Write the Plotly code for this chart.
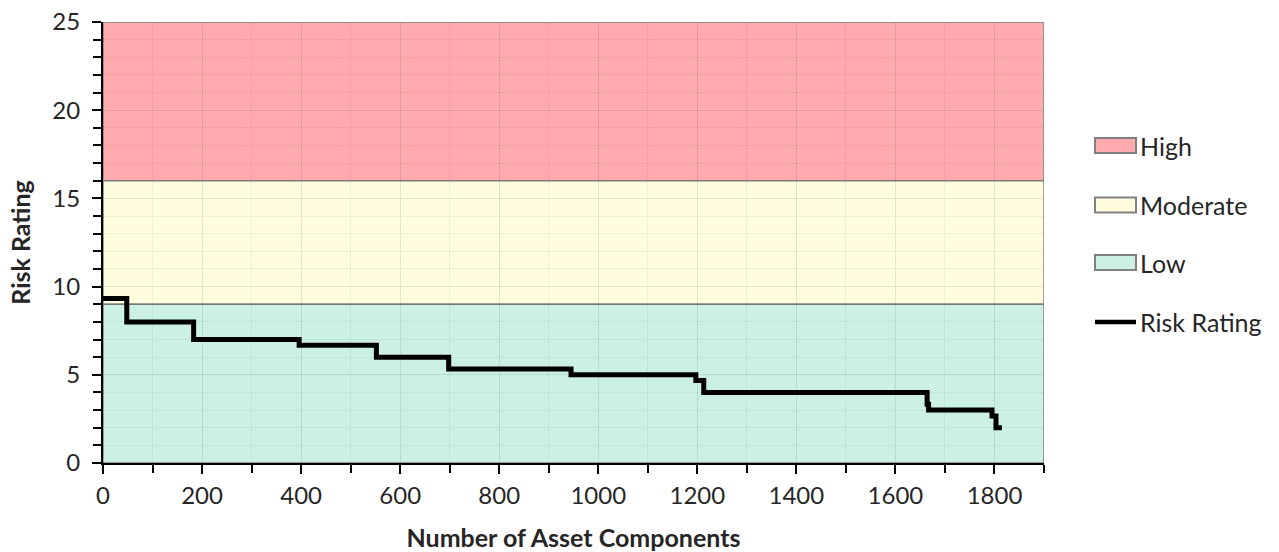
import plotly.graph_objects as go

# Risk bands (lower, upper bound of each rating class)
band_names = ["High", "Moderate", "Low"]
band_lower = [16, 9, 0]
band_upper = [25, 16, 9]
band_fill = ["#ffabae", "#fffddd", "#ccf1e4"]
band_edge = "#808080"

x_max = 1900

# Risk rating stepping down across the ranked asset components
components = [0, 48, 183, 396, 552, 698, 945, 1197, 1213, 1664, 1667, 1795, 1803, 1815]
risk_rating = [9.33, 8, 7, 6.67, 6, 5.33, 5, 4.67, 4, 3.33, 3, 2.67, 2, 2]
line_name = "Risk Rating"

font_family = "Lato, 'Open Sans', sans-serif"
text_color = "#262626"

# Plot-area geometry in pixels (figure is 1279 x 552)
W, H = 1279, 552
ML, MR, MT, MB = 103, 235, 22, 89
PW, PH = W - ML - MR, H - MT - MB


def px_to_paper(px, py):
    return (px - ML) / PW, (H - MB - py) / PH


fig = go.Figure()

shapes = []
annotations = []

# Coloured rating bands behind the grid
for name, lo, hi, col in zip(band_names, band_lower, band_upper, band_fill):
    shapes.append(dict(
        type="rect", xref="x", yref="y",
        x0=0, x1=x_max, y0=lo, y1=hi,
        fillcolor=col,
        line=dict(color=band_edge, width=1.5),
        layer="below",
    ))

fig.add_trace(go.Scatter(
    x=components,
    y=risk_rating,
    mode="lines",
    line=dict(color="black", width=5, shape="hv"),
    name=line_name,
    showlegend=False,
))

# Legend keys: boxed swatches for the bands, a thick line for the series
key_x0, key_x1, text_x = 1095, 1136, 1138
key_rows = [145.5, 205, 262.5, 322]
legend_labels = band_names + [line_name]
for i, (label, cy) in enumerate(zip(legend_labels, key_rows)):
    x0, y0 = px_to_paper(key_x0, cy + 7.5)
    x1, y1 = px_to_paper(key_x1, cy - 7.5)
    if i < len(band_names):
        shapes.append(dict(
            type="rect", xref="paper", yref="paper",
            x0=x0, x1=x1, y0=y0, y1=y1,
            fillcolor=band_fill[i],
            line=dict(color=band_edge, width=2),
        ))
    else:
        _, ym = px_to_paper(0, cy)
        shapes.append(dict(
            type="line", xref="paper", yref="paper",
            x0=x0, x1=x1, y0=ym, y1=ym,
            line=dict(color="black", width=4.5),
        ))
    tx, ty = px_to_paper(text_x, cy)
    annotations.append(dict(
        xref="paper", yref="paper", x=tx, y=ty,
        xanchor="left", yanchor="middle",
        text=label, showarrow=False,
        font=dict(size=25, color=text_color, family=font_family),
    ))

fig.update_layout(
    width=W,
    height=H,
    margin=dict(l=ML, r=MR, t=MT, b=MB),
    paper_bgcolor="white",
    plot_bgcolor="white",
    shapes=shapes,
    annotations=annotations,
    showlegend=False,
    font=dict(family=font_family, size=24, color=text_color),
    xaxis=dict(
        range=[0, x_max],
        dtick=200,
        tick0=0,
        automargin=False,
        showgrid=True,
        gridcolor="rgba(0,0,0,0.09)",
        gridwidth=1,
        minor=dict(dtick=100, showgrid=True, gridcolor="rgba(0,0,0,0.05)", ticks="outside",
                   ticklen=8, tickcolor="black", tickwidth=2),
        ticks="outside",
        ticklen=9,
        tickwidth=2,
        tickcolor="black",
        ticklabelstandoff=1,
        showline=True,
        linecolor="black",
        linewidth=2,
        zeroline=False,
        tickfont=dict(size=24, color=text_color),
        title=dict(text="<b>Number of Asset Components</b>", font=dict(size=25, color=text_color), standoff=24),
    ),
    yaxis=dict(
        range=[0, 25],
        dtick=5,
        tick0=0,
        automargin=False,
        showgrid=True,
        gridcolor="rgba(0,0,0,0.09)",
        gridwidth=1,
        minor=dict(dtick=1, showgrid=True, gridcolor="rgba(0,0,0,0.05)", ticks="outside",
                   ticklen=8, tickcolor="black", tickwidth=2),
        ticks="outside",
        ticklen=9,
        tickwidth=2,
        tickcolor="black",
        ticklabelstandoff=7,
        showline=True,
        linecolor="black",
        linewidth=2,
        zeroline=False,
        tickfont=dict(size=24, color=text_color),
        title=dict(text="<b>Risk Rating</b>", font=dict(size=25, color=text_color), standoff=15),
    ),
)

fig.write_html("out.html")
